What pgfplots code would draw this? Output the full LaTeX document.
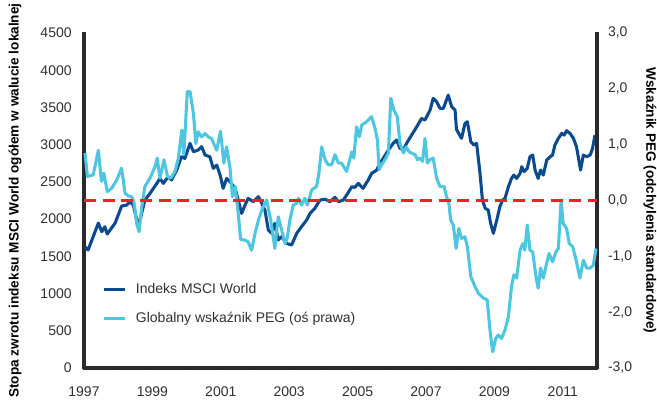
\documentclass[border=0pt]{standalone}
\usepackage{pgfplots}
\pgfplotsset{compat=1.18}
\usepackage{fontspec}
\setmainfont{Liberation Sans}
\definecolor{msci}{HTML}{0B4A8F}
\definecolor{peg}{HTML}{4FC6E0}
\definecolor{zero}{HTML}{E8232B}
\definecolor{axc}{HTML}{2A2A2A}
\definecolor{txc}{HTML}{303030}

\begin{document}
\begin{tikzpicture}
\pgfplotsset{
  base/.style={
    scale only axis, width=384.75pt, height=251.25pt,
    at={(0,0)}, anchor=south west,
    xmin=1997, xmax=2012,
    tick style={color=axc, line width=1.6pt},
    tick align=inside, major tick length=3.5pt,
    ticklabel style={font=\fontsize{10.5}{12}\selectfont, text=txc},
    clip=false,
  },
  lines/.style={
    axis line style={-, color=axc, line width=2.3pt},
    x axis line style={-}, y axis line style={-},
    every outer x axis line/.append style={-},
    every outer y axis line/.append style={-},
  }
}
\begin{axis}[base,
  axis x line=bottom, axis y line=left, lines,
  ymin=0, ymax=4500,
  ytick={0,500,...,4500},
  yticklabels={0,500,1000,1500,2000,2500,3000,3500,4000,4500},
  xtick={1997,1998,...,2012},
  xticklabels={1997,,1999,,2001,,2003,,2005,,2007,,2009,,2011,},
  xticklabel style={yshift=-9pt},
  yticklabel style={xshift=-4pt},
  ylabel={Stopa zwrotu indeksu MSCI World ogółem w walucie lokalnej},
  every axis y label/.style={at={(axis description cs:-0.1345,0.5)}, rotate=90, anchor=center,
    font=\fontsize{10.2}{12}\selectfont\bfseries, text=black},
  legend style={draw=none, fill=none, at={(axis description cs:0.035,0.12)}, anchor=south west,
    font=\fontsize{10.5}{12}\selectfont, text=txc, row sep=9pt, inner sep=0pt, column sep=5pt},
  legend cell align=left,
  legend image code/.code={\draw[#1, line width=2.3pt] (0pt,0pt) -- (16pt,0pt);},
]
\addplot[msci, line width=2.3pt, line join=round] coordinates {
(1997.03,1629)(1997.12,1585)(1997.42,1947)(1997.52,1830)(1997.61,1898)(1997.68,1800)
(1997.91,1947)(1998.10,2175)(1998.25,2189)(1998.35,2234)(1998.44,2190)(1998.59,1898)
(1998.78,2256)(1998.93,2346)(1999.13,2480)(1999.22,2547)(1999.32,2480)(1999.46,2570)
(1999.56,2525)(1999.71,2659)(1999.85,2838)(1999.95,2816)(2000.10,3017)(2000.20,2905)
(2000.34,2928)(2000.44,2973)(2000.54,2861)(2000.68,2838)(2000.78,2682)(2000.88,2726)
(2000.98,2592)(2001.07,2413)(2001.17,2547)(2001.27,2502)(2001.42,2413)(2001.51,2256)
(2001.61,2077)(2001.71,2189)(2001.80,2279)(2001.95,2234)(2002.10,2301)(2002.20,2211)
(2002.29,2122)(2002.39,1853)(2002.49,1809)(2002.58,1943)(2002.68,1719)(2002.78,1764)
(2002.92,1674)(2003.07,1652)(2003.22,1809)(2003.36,1898)(2003.51,1988)(2003.61,2077)
(2003.75,2145)(2003.90,2256)(2004.05,2268)(2004.19,2234)(2004.34,2292)(2004.44,2234)
(2004.58,2256)(2004.68,2323)(2004.83,2435)(2004.92,2426)(2005.02,2480)(2005.16,2413)
(2005.31,2525)(2005.41,2614)(2005.56,2659)(2005.65,2748)(2005.75,2816)(2005.90,2928)
(2006.04,3017)(2006.14,3062)(2006.24,2950)(2006.34,2928)(2006.43,3017)(2006.58,3129)
(2006.73,3241)(2006.87,3353)(2006.97,3331)(2007.12,3465)(2007.21,3622)(2007.31,3577)
(2007.41,3488)(2007.51,3488)(2007.58,3577)(2007.65,3666)(2007.75,3510)(2007.85,3465)
(2007.89,3205)(2008.04,3085)(2008.14,3286)(2008.21,3308)(2008.31,3040)(2008.40,2995)
(2008.48,3017)(2008.58,2614)(2008.65,2256)(2008.73,2145)(2008.82,2122)(2008.89,1943)
(2008.97,1809)(2009.07,1988)(2009.16,2167)(2009.24,2256)(2009.31,2279)(2009.41,2435)
(2009.50,2547)(2009.57,2592)(2009.65,2547)(2009.75,2614)(2009.80,2704)(2009.87,2637)
(2009.96,2682)(2010.04,2838)(2010.12,2861)(2010.19,2659)(2010.28,2547)(2010.35,2659)
(2010.43,2592)(2010.53,2793)(2010.63,2838)(2010.70,2861)(2010.77,2995)(2010.87,3085)
(2010.97,3152)(2011.04,3129)(2011.11,3187)(2011.21,3152)(2011.31,3085)(2011.40,2973)
(2011.52,2659)(2011.60,2861)(2011.70,2838)(2011.80,2861)(2011.87,2950)(2011.94,3129)
};
\addlegendentry{Indeks MSCI World}
\addlegendimage{peg}
\addlegendentry{Globalny wskaźnik PEG (oś prawa)}
\end{axis}
\begin{axis}[base,
  axis x line=none, axis y line=right, lines,
  ymin=-3, ymax=3,
  ytick={-3,-2,...,3},
  yticklabels={{-3,0},{-2,0},{-1,0},{0,0},{1,0},{2,0},{3,0}},
  yticklabel style={xshift=3pt},
  ylabel={Wskaźnik PEG (odchylenia standardowe)},
  every axis y label/.style={at={(axis description cs:1.1033,0.5)}, rotate=-90, anchor=center,
    font=\fontsize{10.2}{12}\selectfont\bfseries, text=black},
]
\addplot[peg, line width=2.3pt, line join=round] coordinates {
(1997.03,0.85)(1997.10,0.43)(1997.27,0.46)(1997.42,0.90)(1997.51,0.34)(1997.58,0.49)
(1997.68,0.16)(1997.81,0.22)(1997.96,0.37)(1998.10,0.58)(1998.20,0.13)(1998.30,0.08)
(1998.39,0.07)(1998.46,-0.02)(1998.54,-0.41)(1998.61,-0.56)(1998.69,-0.11)(1998.78,0.25)
(1998.93,0.40)(1999.08,0.61)(1999.14,0.76)(1999.22,0.40)(1999.34,0.73)(1999.44,0.43)
(1999.54,0.40)(1999.66,0.52)(1999.76,0.76)(1999.86,1.26)(1999.92,0.82)(2000.02,1.95)
(2000.10,1.95)(2000.20,1.56)(2000.27,1.02)(2000.34,1.23)(2000.44,1.14)(2000.54,1.20)
(2000.63,1.14)(2000.73,1.11)(2000.88,0.90)(2000.99,1.24)(2001.09,0.67)(2001.17,0.96)
(2001.27,0.58)(2001.34,0.07)(2001.42,0.25)(2001.51,-0.23)(2001.58,-0.70)(2001.71,-0.71)
(2001.80,-0.74)(2001.90,-0.89)(2002.00,-0.59)(2002.10,-0.35)(2002.20,-0.17)(2002.34,0.01)
(2002.46,-0.35)(2002.58,-0.86)(2002.68,-0.29)(2002.78,-0.53)(2002.88,-0.77)(2002.94,-0.68)
(2003.02,-0.35)(2003.12,-0.08)(2003.22,-0.05)(2003.27,0.04)(2003.36,-0.08)(2003.46,0.04)
(2003.53,-0.08)(2003.66,0.19)(2003.80,0.25)(2003.87,0.49)(2003.95,0.96)(2004.05,0.73)
(2004.14,0.64)(2004.24,0.64)(2004.34,0.82)(2004.44,0.67)(2004.53,0.67)(2004.68,0.52)
(2004.83,0.87)(2004.89,0.76)(2004.97,1.32)(2005.05,1.14)(2005.12,1.35)(2005.26,1.41)
(2005.41,1.50)(2005.51,1.29)(2005.58,1.08)(2005.63,0.55)(2005.70,0.64)(2005.80,0.73)
(2005.90,0.85)(2005.97,1.83)(2006.06,1.62)(2006.16,1.50)(2006.24,1.02)(2006.34,0.85)
(2006.42,0.96)(2006.51,0.87)(2006.58,0.85)(2006.68,0.82)(2006.75,0.73)(2006.82,0.76)
(2006.90,0.70)(2006.97,1.11)(2007.04,0.67)(2007.12,0.73)(2007.21,0.76)(2007.31,0.40)
(2007.41,0.25)(2007.53,0.25)(2007.60,0.07)(2007.67,-0.05)(2007.72,-0.35)(2007.80,-0.44)
(2007.88,-0.86)(2007.96,-0.50)(2008.04,-0.68)(2008.14,-0.65)(2008.21,-0.83)(2008.31,-1.36)
(2008.43,-1.54)(2008.53,-1.66)(2008.68,-1.75)(2008.79,-1.78)(2008.87,-2.32)(2008.95,-2.71)
(2009.04,-2.47)(2009.11,-2.41)(2009.21,-2.47)(2009.31,-2.32)(2009.41,-2.08)(2009.50,-1.54)
(2009.57,-1.33)(2009.65,-1.39)(2009.75,-0.89)(2009.83,-0.77)(2009.89,-0.89)(2009.96,-0.44)
(2010.04,-0.89)(2010.12,-0.92)(2010.22,-1.39)(2010.28,-1.57)(2010.35,-1.21)(2010.43,-1.39)
(2010.53,-1.12)(2010.60,-0.95)(2010.70,-1.10)(2010.80,-0.92)(2010.87,-0.86)(2010.95,0.01)
(2011.01,-0.41)(2011.11,-0.50)(2011.19,-0.77)(2011.29,-0.83)(2011.39,-1.07)(2011.50,-1.39)
(2011.60,-1.07)(2011.70,-1.21)(2011.80,-1.21)(2011.89,-1.16)(2011.97,-0.86)
};
\addplot[zero, line width=2pt, dash pattern=on 9pt off 5pt, forget plot] coordinates {(1997,0)(2012,0)};
\end{axis}
\pgfresetboundingbox
\path[use as bounding box] (-63pt,-24pt) rectangle (429.75pt,276pt);
\end{tikzpicture}
\end{document}
